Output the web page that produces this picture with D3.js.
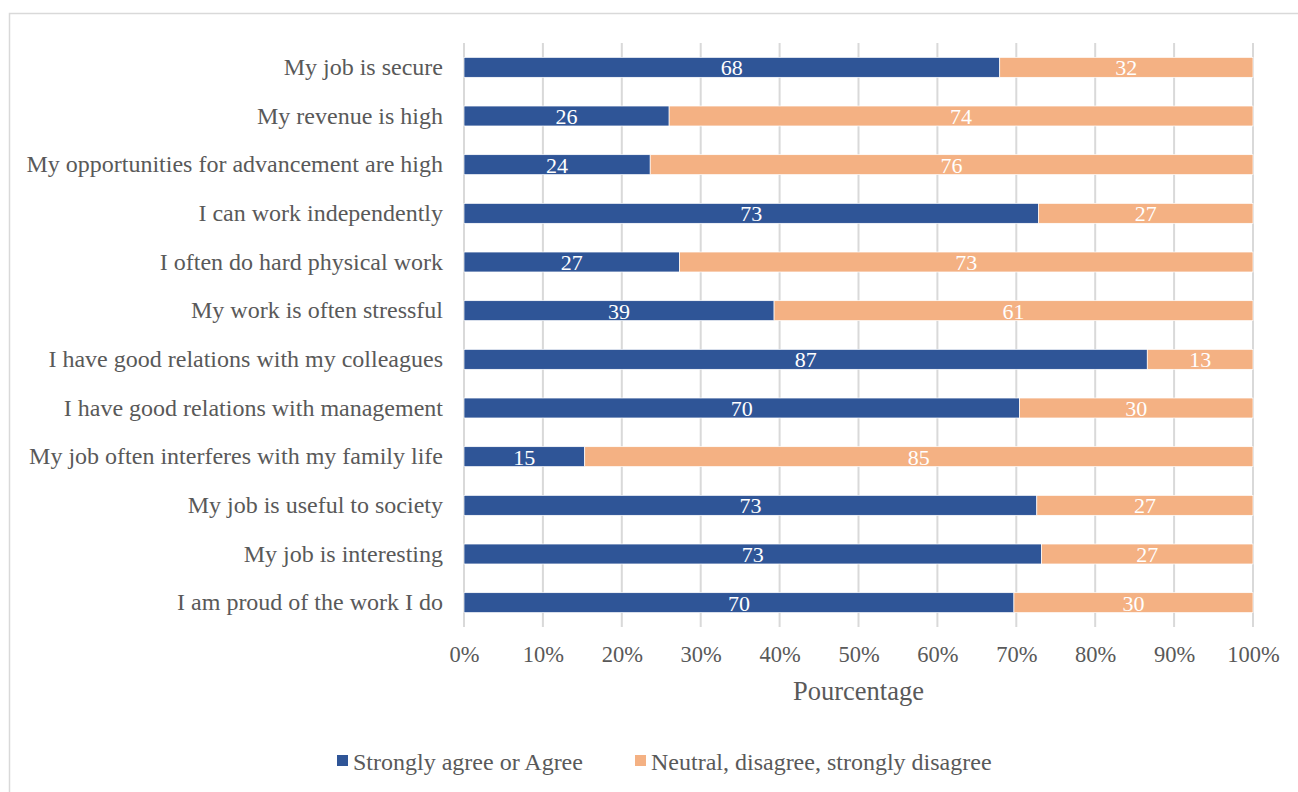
<!DOCTYPE html>
<html>
<head>
<meta charset="utf-8">
<script src="https://cdn.jsdelivr.net/npm/d3@7"></script>
<style>
  body { margin: 0; background: #fff; }
  text { font-family: "Liberation Serif", "Times New Roman", serif; }
</style>
</head>
<body>
<svg width="1298" height="792"></svg>
<script>
// data (percent of respondents)
var categories = [
  "My job is secure",
  "My revenue is high",
  "My opportunities for advancement are high",
  "I can work independently",
  "I often do hard physical work",
  "My work is often stressful",
  "I have good relations with my colleagues",
  "I have good relations with management",
  "My job often interferes with my family life",
  "My job is useful to society",
  "My job is interesting",
  "I am proud of the work I do"
];
var agree = [67.9, 26.0, 23.6, 72.8, 27.3, 39.3, 86.6, 70.4, 15.3, 72.6, 73.2, 69.7];
var disagree = [32.1, 74.0, 76.4, 27.2, 72.7, 60.7, 13.4, 29.6, 84.7, 27.4, 26.8, 30.3];
var seriesNames = ["Strongly agree or Agree", "Neutral, disagree, strongly disagree"];
var xTicks = [0, 0.1, 0.2, 0.3, 0.4, 0.5, 0.6, 0.7, 0.8, 0.9, 1];

var colors = ["#2F5597", "#F4B183"];
var svg = d3.select('svg');

// outer chart border
svg.append('rect').
    attr('x', 9.5).attr('y', 13.5).
    attr('width', 1320).attr('height', 820).
    attr('fill', 'none').attr('stroke', '#D9D9D9').attr('stroke-width', 1.5);

var plotLeft = 464, plotRight = 1253, plotTop = 43, plotBottom = 627;

var xScale = d3.scaleLinear().domain([0, 1]).range([plotLeft, plotRight]);
var yScale = d3.scaleBand().domain(categories).range([plotTop, plotBottom]).paddingInner(0.59).paddingOuter(0.295);

// stack data
var rows = categories.map(function (c, i) {
    var tot = agree[i] + disagree[i];
    return { cat: c, a: agree[i] / tot, d: disagree[i] / tot, av: agree[i], dv: disagree[i] };
});
var stack = d3.stack().keys(['a', 'd']);
var layers = stack(rows);

// gridlines
svg.append('g').selectAll('line').
    data(xTicks).enter().append('line').
    attr('x1', function (d) { return xScale(d); }).
    attr('x2', function (d) { return xScale(d); }).
    attr('y1', plotTop).attr('y2', plotBottom).
    attr('stroke', '#D9D9D9').attr('stroke-width', 2);

// bars
var g = svg.append('g');
layers.forEach(function (layer, k) {
    g.append('g').selectAll('rect').
        data(layer).enter().append('rect').
        attr('x', function (d) { return xScale(d[0]); }).
        attr('y', function (d) { return yScale(d.data.cat); }).
        attr('width', function (d) { return xScale(d[1]) - xScale(d[0]); }).
        attr('height', yScale.bandwidth()).
        attr('fill', colors[k]).
        attr('stroke', '#fff').attr('stroke-width', 0.7);

    g.append('g').selectAll('text').
        data(layer).enter().append('text').
        attr('x', function (d) { return (xScale(d[0]) + xScale(d[1])) / 2; }).
        attr('y', function (d) { return yScale(d.data.cat) + yScale.bandwidth() / 2; }).
        attr('dy', '0.36em').
        attr('text-anchor', 'middle').
        attr('font-size', '22px').
        attr('fill', '#fff').
        text(function (d) { return d3.format('.0f')(k == 0 ? d.data.av : d.data.dv); });
});

// category axis
var yAxis = svg.append('g').
    attr('transform', 'translate(' + plotLeft + ',0)').
    call(d3.axisLeft(yScale).tickSize(0).tickPadding(21));
yAxis.select('.domain').remove();
yAxis.selectAll('text').attr('font-size', '24px').attr('fill', '#595959').
    style('font-family', '"Liberation Serif", serif');

// percent axis
var xAxis = svg.append('g').
    attr('transform', 'translate(0,' + plotBottom + ')').
    call(d3.axisBottom(xScale).tickValues(xTicks).tickFormat(d3.format('.0%')).tickSize(0).tickPadding(19));
xAxis.select('.domain').remove();
xAxis.selectAll('text').attr('font-size', '22.5px').attr('fill', '#595959').
    style('font-family', '"Liberation Serif", serif');

svg.append('text').
    attr('x', (plotLeft + plotRight) / 2).attr('y', 700).
    attr('text-anchor', 'middle').
    attr('font-size', '26.5px').attr('fill', '#595959').
    text('Pourcentage');

// legend
var legendX = [337, 635];
var legend = svg.append('g').selectAll('g').
    data(seriesNames).enter().append('g').
    attr('transform', function (d, i) { return 'translate(' + legendX[i] + ',755)'; });
legend.append('rect').
    attr('width', 11).attr('height', 11).
    attr('fill', function (d, i) { return colors[i]; });
legend.append('text').
    attr('x', 16).attr('y', 6).attr('dy', '0.36em').
    attr('font-size', '24px').attr('fill', '#595959').
    text(function (d) { return d; });
</script>
</body>
</html>
